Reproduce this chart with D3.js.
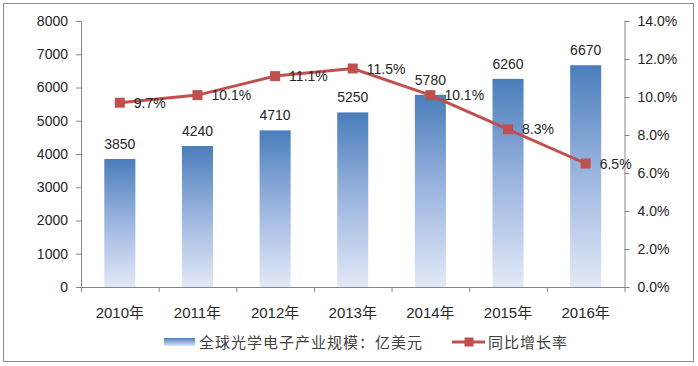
<!DOCTYPE html>
<html><head><meta charset="utf-8">
<script src="https://cdn.jsdelivr.net/npm/d3@7/dist/d3.min.js"></script>
<style>
body{margin:0;background:#fff;}
text{font-family:"Liberation Sans","Noto Sans CJK SC",sans-serif;fill:#262626;}
</style></head><body>
<svg id="c" width="698" height="366"></svg>
<script>
const categories = ["2010年","2011年","2012年","2013年","2014年","2015年","2016年"];
const marketSize = [3850,4240,4710,5250,5780,6260,6670];
const growthRate = [9.7,10.1,11.1,11.5,10.1,8.3,6.5];
const leftTicks = [0,1000,2000,3000,4000,5000,6000,7000,8000];
const rightTicks = [0,2,4,6,8,10,12,14];
const barName = "全球光学电子产业规模：亿美元";
const lineName = "同比增长率";

const svg = d3.select("#c");
const m = {l:81, r:624.5, t:21, b:287};
const axisColor = "#868686";
const red = "#C0504D";

// outer border
svg.append("rect").attr("x",3.5).attr("y",3.5).attr("width",690).attr("height",358)
  .attr("fill","#fff").attr("stroke","#8c8c8c").attr("stroke-width",1);

const defs = svg.append("defs");
const g = defs.append("linearGradient").attr("id","barGrad").attr("x1",0).attr("y1",0).attr("x2",0).attr("y2",1);
g.append("stop").attr("offset","0%").attr("stop-color","#4A7EBB");
g.append("stop").attr("offset","50%").attr("stop-color","#9DB6E0");
g.append("stop").attr("offset","100%").attr("stop-color","#E2E9F6");

const x = d3.scaleBand().domain(categories).range([m.l,m.r]).paddingInner(0.6).paddingOuter(0.3);
const yL = d3.scaleLinear().domain([0,8000]).range([m.b,m.t]);
const yR = d3.scaleLinear().domain([0,14]).range([m.b,m.t]);

// bars
svg.selectAll("rect.bar").data(marketSize).enter().append("rect")
  .attr("class","bar")
  .attr("x",(d,i)=>x(categories[i]))
  .attr("y",d=>yL(d))
  .attr("width",x.bandwidth())
  .attr("height",d=>yL(0)-yL(d))
  .attr("fill","url(#barGrad)");

// bar labels
svg.selectAll("text.bl").data(marketSize).enter().append("text")
  .attr("class","bl")
  .attr("x",(d,i)=>x(categories[i])+x.bandwidth()/2)
  .attr("y",d=>yL(d)-10)
  .attr("text-anchor","middle").attr("font-size",14)
  .text(d=>d);

// axes
const styleAxis = sel => {
  sel.select(".domain").attr("stroke",axisColor);
  sel.selectAll(".tick line").attr("stroke",axisColor);
  sel.selectAll(".tick text").attr("font-size",14).attr("fill","#262626")
    .style("font-family",'"Liberation Sans","Noto Sans CJK SC",sans-serif');
};
const ax0 = svg.append("g").attr("transform",`translate(${m.l},0)`)
  .call(d3.axisLeft(yL).tickValues(leftTicks).tickSize(5).tickSizeOuter(0).tickPadding(8).tickFormat(d3.format("d")));
styleAxis(ax0);
const ax1 = svg.append("g").attr("transform",`translate(${m.r},0)`)
  .call(d3.axisRight(yR).tickValues(rightTicks).tickSize(5).tickSizeOuter(0).tickPadding(8).tickFormat(d=>d.toFixed(1)+"%"));
styleAxis(ax1);

// x axis line with boundary ticks
const xb = d3.scaleLinear().domain([0,categories.length]).range([m.l,m.r]);
const xg = svg.append("g").attr("transform",`translate(0,${m.b})`)
  .call(d3.axisBottom(xb).tickValues(d3.range(0,categories.length+1)).tickSize(5).tickSizeOuter(0).tickFormat(""));
styleAxis(xg);
svg.selectAll("text.xl").data(categories).enter().append("text")
  .attr("class","xl")
  .attr("x",d=>x(d)+x.bandwidth()/2)
  .attr("y",318).attr("text-anchor","middle").attr("font-size",15)
  .text(d=>d);

// line
const cx = (d,i)=>x(categories[i])+x.bandwidth()/2;
const line = d3.line().x(cx).y(d=>yR(d));
svg.append("path").datum(growthRate).attr("d",line)
  .attr("fill","none").attr("stroke",red).attr("stroke-width",3);
svg.selectAll("rect.mk").data(growthRate).enter().append("rect")
  .attr("class","mk")
  .attr("x",(d,i)=>cx(d,i)-5).attr("y",d=>yR(d)-5)
  .attr("width",10).attr("height",10).attr("fill",red);
svg.selectAll("text.ll").data(growthRate).enter().append("text")
  .attr("class","ll")
  .attr("x",(d,i)=>cx(d,i)+14).attr("y",d=>yR(d)+5)
  .attr("font-size",14)
  .text(d=>d.toFixed(1)+"%");

// legend
const lg = svg.append("g");
const lgGrad = defs.append("linearGradient").attr("id","lgGrad").attr("x1",0).attr("y1",0).attr("x2",0).attr("y2",1);
lgGrad.append("stop").attr("offset","0%").attr("stop-color","#4A7EBB");
lgGrad.append("stop").attr("offset","100%").attr("stop-color","#DCE6F4");
lg.append("rect").attr("x",164).attr("y",338).attr("width",31).attr("height",8).attr("fill","url(#lgGrad)");
lg.append("text").attr("x",199).attr("y",347.5).attr("font-size",15).attr("letter-spacing",1)
  .style("fill","#404040").text(barName);
lg.append("line").attr("x1",452).attr("x2",485).attr("y1",342).attr("y2",342).attr("stroke",red).attr("stroke-width",3);
lg.append("rect").attr("x",464.5).attr("y",337.5).attr("width",9).attr("height",9).attr("fill",red);
lg.append("text").attr("x",488).attr("y",347.5).attr("font-size",15).attr("letter-spacing",1)
  .style("fill","#404040").text(lineName);
</script></body></html>
